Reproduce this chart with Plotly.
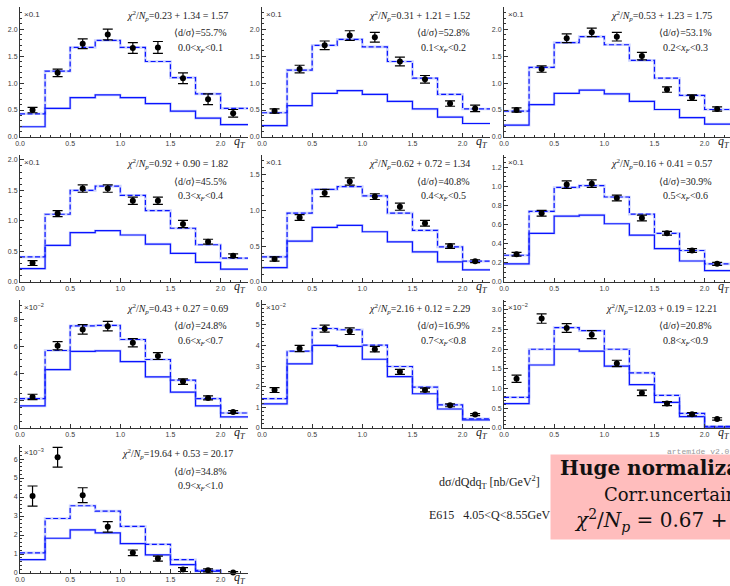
import plotly.graph_objects as go

W, H = 730, 586

# ---------------- data ----------------
qT_edges = [0.0, 0.25, 0.5, 0.75, 1.0, 1.25, 1.5, 1.75, 2.0]
qT_centers = [0.125, 0.375, 0.625, 0.875, 1.125, 1.375, 1.625, 1.875, 2.125]
qT_ticks = [0.0, 0.5, 1.0, 1.5, 2.0]

xF_lo = ["0.0", "0.1", "0.2", "0.3", "0.4", "0.5", "0.6", "0.7", "0.8", "0.9"]
xF_hi = ["0.1", "0.2", "0.3", "0.4", "0.5", "0.6", "0.7", "0.8", "0.9", "1.0"]
chi2_text = ["0.23 + 1.34 = 1.57", "0.31 + 1.21 = 1.52", "0.53 + 1.23 = 1.75",
             "0.92 + 0.90 = 1.82", "0.62 + 0.72 = 1.34", "0.16 + 0.41 = 0.57",
             "0.43 + 0.27 = 0.69", "2.16 + 0.12 = 2.29", "12.03 + 0.19 = 12.21",
             "19.64 + 0.53 = 20.17"]
norm_text = ["55.7%", "52.8%", "53.1%", "45.5%", "40.8%", "30.9%",
             "24.8%", "16.9%", "20.8%", "34.8%"]
scale_text = ["×0.1"] * 6 + ["×10<sup>−2</sup>"] * 3 + ["×10<sup>−3</sup>"]

data_p1 = [0.50, 1.19, 1.73, 1.90, 1.65, 1.66, 1.09, 0.70, 0.44]
err_p1 = [0.05, 0.07, 0.09, 0.10, 0.10, 0.11, 0.10, 0.10, 0.07]
dash_p1 = [0.43, 1.22, 1.66, 1.79, 1.66, 1.40, 1.10, 0.80, 0.53]
solid_p1 = [0.19, 0.53, 0.73, 0.78, 0.73, 0.62, 0.48, 0.35, 0.23]

data_p2 = [0.48, 1.26, 1.70, 1.88, 1.85, 1.40, 1.07, 0.62, 0.53]
err_p2 = [0.04, 0.07, 0.08, 0.09, 0.09, 0.08, 0.07, 0.05, 0.06]
dash_p2 = [0.45, 1.24, 1.70, 1.81, 1.67, 1.40, 1.09, 0.79, 0.52]
solid_p2 = [0.21, 0.58, 0.81, 0.86, 0.79, 0.66, 0.52, 0.37, 0.25]

data_p3 = [0.50, 1.26, 1.83, 1.94, 1.86, 1.50, 0.88, 0.73, 0.52]
err_p3 = [0.04, 0.06, 0.08, 0.08, 0.08, 0.07, 0.05, 0.05, 0.04]
dash_p3 = [0.48, 1.29, 1.75, 1.86, 1.71, 1.42, 1.09, 0.77, 0.51]
solid_p3 = [0.22, 0.60, 0.81, 0.87, 0.80, 0.66, 0.51, 0.36, 0.24]

data_p4 = [0.31, 1.12, 1.53, 1.53, 1.33, 1.33, 0.95, 0.66, 0.43]
err_p4 = [0.04, 0.05, 0.06, 0.06, 0.06, 0.06, 0.06, 0.04, 0.03]
dash_p4 = [0.41, 1.11, 1.50, 1.57, 1.42, 1.17, 0.88, 0.61, 0.39]
solid_p4 = [0.22, 0.60, 0.81, 0.84, 0.77, 0.62, 0.47, 0.32, 0.21]

data_p5 = [0.32, 0.90, 1.24, 1.40, 1.19, 1.05, 0.82, 0.50, 0.29]
err_p5 = [0.03, 0.04, 0.05, 0.05, 0.04, 0.05, 0.04, 0.03, 0.02]
dash_p5 = [0.35, 0.96, 1.29, 1.33, 1.20, 0.96, 0.72, 0.49, 0.29]
solid_p5 = [0.20, 0.57, 0.76, 0.79, 0.70, 0.56, 0.42, 0.28, 0.17]

data_p6 = [0.29, 0.72, 1.02, 1.03, 0.88, 0.67, 0.51, 0.33, 0.19]
err_p6 = [0.02, 0.03, 0.04, 0.04, 0.03, 0.03, 0.02, 0.02, 0.015]
dash_p6 = [0.28, 0.74, 0.99, 1.01, 0.89, 0.71, 0.51, 0.33, 0.19]
solid_p6 = [0.19, 0.51, 0.69, 0.70, 0.61, 0.49, 0.35, 0.22, 0.12]

data_p7 = [2.28, 6.04, 7.24, 7.48, 6.26, 5.28, 3.41, 2.21, 1.18]
err_p7 = [0.20, 0.30, 0.35, 0.35, 0.30, 0.25, 0.20, 0.15, 0.10]
dash_p7 = [2.16, 5.69, 7.50, 7.53, 6.50, 5.03, 3.51, 2.16, 1.10]
solid_p7 = [1.62, 4.29, 5.62, 5.67, 4.88, 3.75, 2.63, 1.62, 0.81]

data_p8 = [1.84, 3.85, 4.81, 4.69, 3.82, 2.72, 1.84, 1.10, 0.65]
err_p8 = [0.12, 0.15, 0.17, 0.16, 0.13, 0.12, 0.09, 0.07, 0.05]
dash_p8 = [1.42, 3.72, 4.82, 4.76, 4.01, 2.98, 1.98, 1.12, 0.44]
solid_p8 = [1.17, 3.11, 4.00, 3.95, 3.33, 2.49, 1.66, 0.92, 0.39]

data_p9 = [1.25, 2.78, 2.54, 2.37, 1.64, 0.89, 0.62, 0.35, 0.23]
err_p9 = [0.09, 0.12, 0.11, 0.10, 0.08, 0.07, 0.05, 0.04, 0.03]
dash_p9 = [0.78, 2.00, 2.55, 2.47, 2.00, 1.40, 0.83, 0.37, 0.04]
solid_p9 = [0.62, 1.60, 2.00, 1.95, 1.57, 1.10, 0.65, 0.29, 0.02]

data_p10 = [4.05, 6.09, 4.10, 2.43, 1.06, 0.76, 0.18, 0.14, 0.02]
err_p10 = [0.53, 0.52, 0.39, 0.28, 0.15, 0.13, 0.10, 0.08, 0.05]
dash_p10 = [1.06, 2.87, 3.54, 3.26, 2.45, 1.51, 0.70, 0.14, -0.15]
solid_p10 = [0.70, 1.83, 2.27, 2.11, 1.55, 0.95, 0.44, 0.09, -0.25]

all_data = [data_p1, data_p2, data_p3, data_p4, data_p5, data_p6, data_p7, data_p8, data_p9, data_p10]
all_err = [err_p1, err_p2, err_p3, err_p4, err_p5, err_p6, err_p7, err_p8, err_p9, err_p10]
all_dash = [dash_p1, dash_p2, dash_p3, dash_p4, dash_p5, dash_p6, dash_p7, dash_p8, dash_p9, dash_p10]
all_solid = [solid_p1, solid_p2, solid_p3, solid_p4, solid_p5, solid_p6, solid_p7, solid_p8, solid_p9, solid_p10]

y_max = [2.41, 2.41, 2.41, 2.08, 1.77, 1.33, 9.4, 6.2, 3.25, 6.74]
y_dtick = [0.5, 0.5, 0.5, 0.5, 0.5, 0.2, 2, 1, 0.5, 1]
y_minor = [0.1, 0.1, 0.1, 0.1, 0.1, 0.05, 0.5, 0.2, 0.1, 0.2]
y_fmt = [".1f"] * 6 + ["d", "d", ".1f", "d"]

# ---------------- layout geometry (px) ----------------
col_left = [20, 262, 504]
col_right = [248, 490, 730]
row_top = [7, 155, 300, 445]
row_bot = [137, 282, 428, 573]
PX_PER_UNIT = 100.3

BLUE = "rgb(10,20,255)"
BAND = "rgba(110,130,255,0.35)"
AX = "#333333"
SERIF = "Liberation Serif"

fig = go.Figure()
annotations = []
layout = dict(
    width=W, height=H, margin=dict(l=0, r=0, t=0, b=0),
    paper_bgcolor="white", plot_bgcolor="white", showlegend=False,
    template="none",
)

for i in range(10):
    r, c = divmod(i, 3)
    n = i + 1
    xa = "x" if n == 1 else f"x{n}"
    ya = "y" if n == 1 else f"y{n}"
    xkey = "xaxis" if n == 1 else f"xaxis{n}"
    ykey = "yaxis" if n == 1 else f"yaxis{n}"
    ox, oxr = col_left[c], col_right[c]
    ty, by = row_top[r], row_bot[r]
    xmax = (oxr - ox) / PX_PER_UNIT

    layout[xkey] = dict(
        domain=[ox / W, oxr / W], range=[0, xmax], anchor=ya,
        tickmode="array", tickvals=qT_ticks, ticktext=[f"{v:.1f}" for v in qT_ticks],
        ticks="inside", ticklen=4, tickwidth=1, tickcolor=AX,
        minor=dict(ticks="inside", ticklen=2, tickwidth=0.8, tickcolor=AX, dtick=0.1, tick0=0, showgrid=False),
        showline=True, linecolor=AX, linewidth=1, showgrid=False, zeroline=False,
        tickfont=dict(family="Liberation Sans", size=7, color="#3a3a3a"), automargin=False,
    )
    layout[ykey] = dict(
        domain=[1 - by / H, 1 - ty / H], range=[0, y_max[i]], anchor=xa,
        tickmode="linear", tick0=0, dtick=y_dtick[i], tickformat=y_fmt[i],
        ticks="inside", ticklen=4, tickwidth=1, tickcolor=AX,
        minor=dict(ticks="inside", ticklen=2, tickwidth=0.8, tickcolor=AX, dtick=y_minor[i], tick0=0, showgrid=False),
        showline=True, linecolor=AX, linewidth=1, showgrid=False, zeroline=False,
        tickfont=dict(family="Liberation Sans", size=7, color="#3a3a3a"), automargin=False,
    )

    step_x = qT_edges + [2.4]
    for vals, dash in ((all_solid[i], "solid"), (all_dash[i], "5px,2.5px")):
        sy = vals + [vals[-1]]
        fig.add_trace(go.Scatter(x=step_x, y=sy, mode="lines", line_shape="hv",
                                 line=dict(color=BAND, width=2.6), xaxis=xa, yaxis=ya,
                                 hoverinfo="skip"))
        fig.add_trace(go.Scatter(x=step_x, y=sy, mode="lines", line_shape="hv",
                                 line=dict(color=BLUE, width=1.2, dash=dash), xaxis=xa, yaxis=ya,
                                 hoverinfo="skip"))
    fig.add_trace(go.Scatter(
        x=qT_centers, y=all_data[i], mode="markers",
        marker=dict(color="black", size=6),
        error_y=dict(type="data", array=all_err[i], color="black", thickness=1.2, width=5),
        xaxis=xa, yaxis=ya, cliponaxis=False))

    annotations += [
        dict(text=f"<i>χ</i><sup>2</sup>/<i>N<sub>p</sub></i>={chi2_text[i]}",
             x=(ox + 157) / W, y=1 - (ty + 9) / H, xanchor="center", yanchor="middle",
             font=dict(family=SERIF, size=10, color="#222")),
        dict(text=f"⟨d/σ⟩={norm_text[i]}",
             x=(ox + 181) / W, y=1 - (ty + 26) / H, xanchor="center", yanchor="middle",
             font=dict(family=SERIF, size=10, color="#222")),
        dict(text=f"{xF_lo[i]}&lt;<i>x<sub>F</sub></i>&lt;{xF_hi[i]}",
             x=(ox + 181) / W, y=1 - (ty + 41) / H, xanchor="center", yanchor="middle",
             font=dict(family=SERIF, size=10, color="#222")),
        dict(text=scale_text[i], x=(ox + 2) / W, y=1 - (ty + 7) / H,
             xanchor="left", yanchor="middle",
             font=dict(family="Liberation Sans", size=8, color="#333")),
        dict(text="<i>q<sub>T</sub></i>", x=(ox + 220) / W, y=1 - (by + 5) / H,
             xanchor="center", yanchor="middle",
             font=dict(family=SERIF, size=12, color="#222")),
    ]

# bottom-right texts
annotations += [
    dict(text="dσ/dQdq<sub>T</sub> [nb/GeV<sup>2</sup>]", x=489 / W, y=1 - 482 / H,
         xanchor="center", yanchor="middle", font=dict(family=SERIF, size=12, color="#222")),
    dict(text="E615&nbsp;&nbsp;&nbsp;4.05&lt;Q&lt;8.55GeV", x=427 / W, y=1 - 515 / H,
         xanchor="left", yanchor="middle", font=dict(family=SERIF, size=12, color="#222")),
    dict(text="artemide v2.01", x=665 / W, y=1 - 451 / H, xanchor="left", yanchor="middle",
         font=dict(family="Liberation Mono", size=8, color="#999")),
    dict(text=" ", x=550 / W, y=1 - 454 / H, xanchor="left", yanchor="top",
         width=200, height=84, bgcolor="#ffbdbd", borderpad=0, showarrow=False),
    dict(text="<b>Huge normalization</b>", x=558 / W, y=1 - 468 / H, xanchor="left", yanchor="middle",
         font=dict(family="DejaVu Serif", size=20, color="#111")),
    dict(text="Corr.uncertainty", x=602 / W, y=1 - 494 / H, xanchor="left", yanchor="middle",
         font=dict(family="DejaVu Serif", size=18, color="#111")),
    dict(text="<i>χ</i><sup>2</sup>/<i>N<sub>p</sub></i> = 0.67 +", x=572 / W, y=1 - 520 / H,
         xanchor="left", yanchor="middle",
         font=dict(family="DejaVu Serif", size=20, color="#111")),
]
for a in annotations:
    a.setdefault("xref", "paper")
    a.setdefault("yref", "paper")
    a.setdefault("showarrow", False)
layout["annotations"] = annotations

fig.update_layout(**layout)
fig.write_html("out.html")
